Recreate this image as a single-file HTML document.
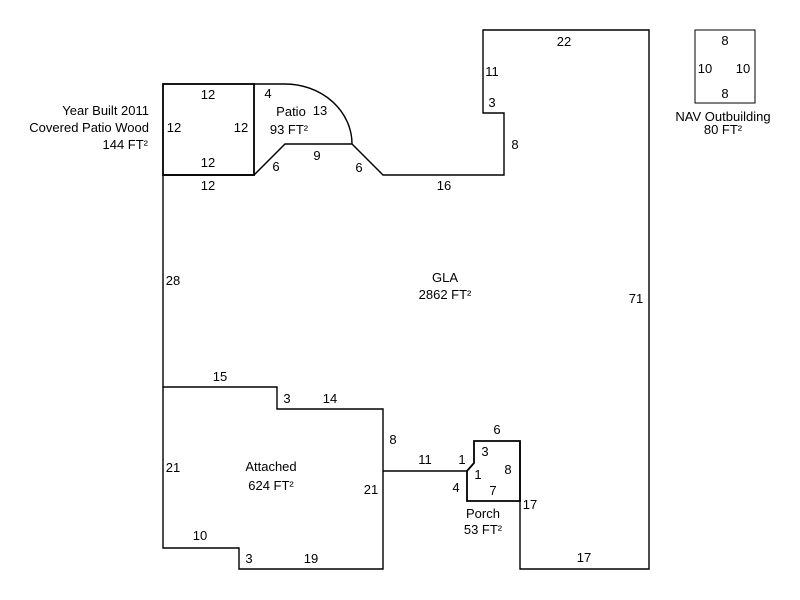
<!DOCTYPE html>
<html><head><style>html,body{margin:0;padding:0;background:#fff;}svg{display:block}text{font-family:"Liberation Sans",Arial,sans-serif;font-size:13px;fill:#000}</style></head>
<body>
<svg width="800" height="600" viewBox="0 0 800 600" xmlns="http://www.w3.org/2000/svg">
<g fill="none" stroke="#000" stroke-width="1.4">
<path d="M163,175 L254,175 L285,144 L352,144 L383,175 L504,175 L504,113 L483,113 L483,30 L649,30 L649,569 L520,569 L520,441 M163,175 L163,387"/>
<rect x="163" y="84" width="91" height="91" stroke-width="1.8"/>
<path d="M254,84 L285,84 A67,60 0 0 1 352,144"/>
<path d="M163,387 L277,387 L277,409 L383,409 L383,569 L239,569 L239,548 L163,548 Z"/>
<path d="M383,471 L467,471"/>
<path d="M474,441 L520,441 L520,501 L467,501 L467,471 L474,463 Z" stroke-width="1.8"/>
<rect x="695" y="30" width="60" height="73" stroke-width="1"/>
</g>
<g text-anchor="middle">
<text x="564" y="46">22</text>
<text x="492" y="76">11</text>
<text x="492" y="107">3</text>
<text x="515" y="149">8</text>
<text x="444" y="190">16</text>
<text x="636" y="303">71</text>
<text x="445" y="282">GLA</text>
<text x="445" y="299">2862 FT²</text>
<text x="208" y="99">12</text>
<text x="174" y="132">12</text>
<text x="241" y="132">12</text>
<text x="208" y="167">12</text>
<text x="208" y="190">12</text>
<text x="268" y="98">4</text>
<text x="291" y="116">Patio</text>
<text x="320" y="115">13</text>
<text x="289" y="134">93 FT²</text>
<text x="317" y="160">9</text>
<text x="276" y="171">6</text>
<text x="359" y="172">6</text>
<text x="149" y="115" text-anchor="end">Year Built 2011</text>
<text x="149" y="132" text-anchor="end">Covered Patio Wood</text>
<text x="148" y="149" text-anchor="end">144 FT²</text>
<text x="173" y="285">28</text>
<text x="220" y="381">15</text>
<text x="287" y="403">3</text>
<text x="330" y="403">14</text>
<text x="393" y="444">8</text>
<text x="173" y="472">21</text>
<text x="271" y="471">Attached</text>
<text x="271" y="490">624 FT²</text>
<text x="371" y="494">21</text>
<text x="200" y="540">10</text>
<text x="249" y="563">3</text>
<text x="311" y="563">19</text>
<text x="425" y="464">11</text>
<text x="462" y="464">1</text>
<text x="497" y="434">6</text>
<text x="485" y="456">3</text>
<text x="478" y="479">1</text>
<text x="508" y="474">8</text>
<text x="456" y="492">4</text>
<text x="493" y="495">7</text>
<text x="530" y="509">17</text>
<text x="483" y="518">Porch</text>
<text x="483" y="534">53 FT²</text>
<text x="584" y="562">17</text>
<text x="725" y="45">8</text>
<text x="705" y="73">10</text>
<text x="743" y="73">10</text>
<text x="725" y="98">8</text>
<text x="723" y="121">NAV Outbuilding</text>
<text x="723" y="134">80 FT²</text>
</g>
</svg>
</body></html>
